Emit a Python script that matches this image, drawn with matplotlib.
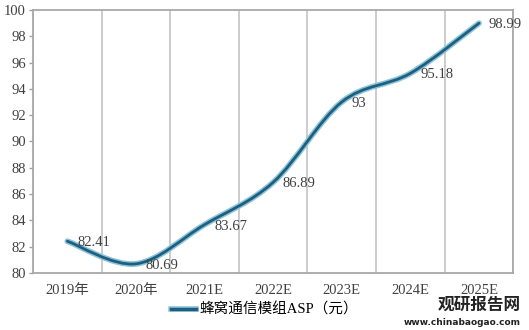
import matplotlib.pyplot as plt
from matplotlib.path import Path
from matplotlib.patches import PathPatch
from matplotlib.lines import Line2D
import matplotlib.patheffects as pe

plt.rcParams['font.family'] = ['Liberation Serif', 'Noto Sans CJK SC']

years = ["2019年", "2020年", "2021E", "2022E", "2023E", "2024E", "2025E"]
asp = [82.41, 80.69, 83.67, 86.89, 93, 95.18, 98.99]
labels = ["82.41", "80.69", "83.67", "86.89", "93", "95.18", "98.99"]
series_name = "蜂窝通信模组ASP（元）"

fig = plt.figure(figsize=(5.29, 3.30), dpi=100)
ax = fig.add_axes([0.0624, 0.173, 0.908, 0.797])

# smoothed line (Catmull-Rom style cubic Bezier through the data points)
xs = list(range(len(asp)))
verts = [(xs[0], asp[0])]
codes = [Path.MOVETO]
n = len(asp)
for i in range(n - 1):
    x0, y0 = xs[max(i - 1, 0)], asp[max(i - 1, 0)]
    x1, y1 = xs[i], asp[i]
    x2, y2 = xs[i + 1], asp[i + 1]
    x3, y3 = xs[min(i + 2, n - 1)], asp[min(i + 2, n - 1)]
    c1 = (x1 + (x2 - x0) / 6, y1 + (y2 - y0) / 6)
    c2 = (x2 - (x3 - x1) / 6, y2 - (y3 - y1) / 6)
    verts += [c1, c2, (x2, y2)]
    codes += [Path.CURVE4] * 3
path = Path(verts, codes)
ax.add_patch(PathPatch(path, fill=False, edgecolor="#8fc4d8", lw=4.2, capstyle="round", zorder=3))
ax.add_patch(PathPatch(path, fill=False, edgecolor="#1d5f80", lw=2.0, capstyle="round", zorder=4))

for x, y, t in zip(xs, asp, labels):
    ax.annotate(t, xy=(x, y), xytext=(7, -1), textcoords="offset points",
                ha="left", va="center", fontsize=10.5, color="#404040", zorder=5)

ax.set_xlim(-0.5, 6.5)
ax.set_ylim(80, 100)
ax.set_yticks(range(80, 101, 2))
ax.set_xticks(xs)
ax.set_xticklabels(years)
ax.set_xticks([i - 0.5 for i in range(n + 1)] + xs, minor=True)
ax.grid(True, axis="x", which="minor", color="#c8c8c8", lw=1.3)
ax.tick_params(axis="x", which="both", length=0, pad=8, labelsize=10.5, colors="#404040")
ax.tick_params(axis="y", length=3, width=1, color="#a0a0a0", labelsize=10.5, colors="#404040", pad=2)
for s in ax.spines.values():
    s.set_color("#a8a8a8")
    s.set_linewidth(1.3)

handle = Line2D([], [], color="#1d5f80", lw=2.5,
                path_effects=[pe.Stroke(linewidth=4, foreground="#8fc4d8"), pe.Normal()])
fig.legend([handle], [series_name], loc="center", bbox_to_anchor=(0.5, 0.062),
           frameon=False, fontsize=10.5, handlelength=1.7, handletextpad=0.2)

# watermark
fig.text(0.985, 0.076, "观研报告网", ha="right", va="center", fontsize=12,
         fontweight="bold", family="Noto Sans CJK SC", color="#222222")
fig.text(0.985, 0.022, "www.chinabaogao.com", ha="right", va="center", fontsize=6.5,
         fontweight="bold", family="DejaVu Sans", color="#222222")

fig.savefig("out.png", dpi=100)
